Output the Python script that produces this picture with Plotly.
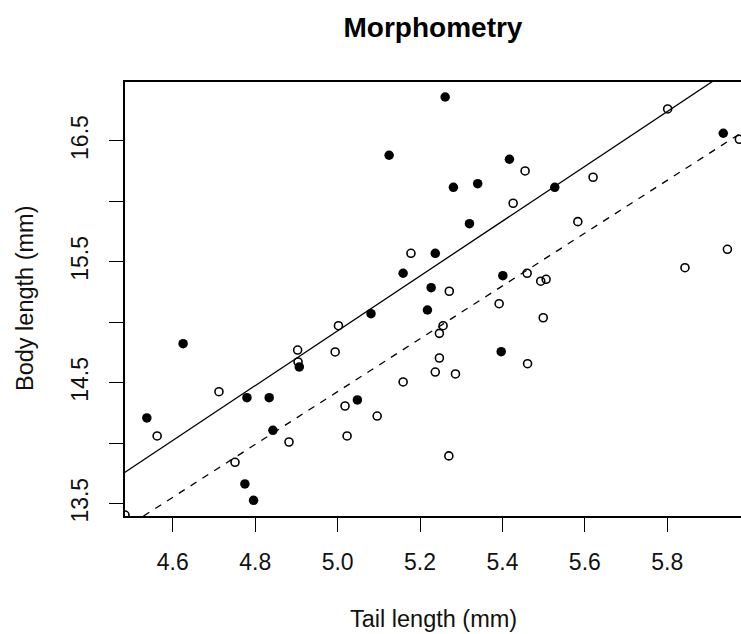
import plotly.graph_objects as go

# Morphometry measurements: tail length vs body length (mm)
filled_tail = [4.537, 4.625, 4.780, 4.834, 4.843, 4.775, 4.796, 4.907, 5.048, 5.081,
               5.218, 5.397, 5.261, 5.125, 5.417, 5.281, 5.340, 5.320, 5.237, 5.159,
               5.227, 5.401, 5.527, 5.936]
filled_body = [14.209, 14.823, 14.377, 14.377, 14.107, 13.663, 13.528, 14.631, 14.358, 15.072,
               15.102, 14.757, 16.864, 16.382, 16.349, 16.117, 16.147, 15.816, 15.571, 15.406,
               15.287, 15.386, 16.117, 16.564]

open_tail = [5.455, 5.426, 5.178, 5.271, 5.460, 5.493, 5.506, 5.801, 5.975, 5.620,
             5.583, 5.946, 5.843, 4.562, 4.712, 4.751, 4.903, 4.882, 4.994, 5.002,
             5.392, 5.499, 5.256, 5.247, 5.247, 5.237, 5.286, 5.159, 5.461, 5.018,
             5.096, 5.023, 5.270, 4.484, 4.904]
open_body = [16.252, 15.985, 15.571, 15.257, 15.406, 15.340, 15.356, 16.765, 16.514, 16.200,
             15.833, 15.604, 15.452, 14.060, 14.426, 13.842, 14.771, 14.010, 14.755, 14.972,
             15.154, 15.038, 14.972, 14.909, 14.705, 14.589, 14.573, 14.507, 14.658, 14.308,
             14.225, 14.060, 13.895, 13.406, 14.672]

# Fitted lines (intercept, slope)
fit_solid = (3.595, 2.267)
fit_dashed = (3.502, 2.185)

x_ticks = [4.6, 4.8, 5.0, 5.2, 5.4, 5.6, 5.8]
x_ticktext = ["4.6", "4.8", "5.0", "5.2", "5.4", "5.6", "5.8"]
y_ticks = [13.5, 14.0, 14.5, 15.0, 15.5, 16.0, 16.5]
y_ticktext = ["13.5", "", "14.5", "", "15.5", "", "16.5"]

FONT = "Liberation Sans, Arial, sans-serif"

fig = go.Figure()

line_x = [4.3, 6.2]
for (a, b), dash in [(fit_solid, "solid"), (fit_dashed, "7px,7px")]:
    fig.add_trace(go.Scatter(
        x=line_x, y=[a + b * v for v in line_x], mode="lines",
        line=dict(color="black", width=1.3, dash=dash),
        hoverinfo="skip", showlegend=False))

fig.add_trace(go.Scatter(
    x=open_tail, y=open_body, mode="markers",
    marker=dict(symbol="circle-open", size=8, color="black", line=dict(width=1.6, color="black")),
    showlegend=False))
fig.add_trace(go.Scatter(
    x=filled_tail, y=filled_body, mode="markers",
    marker=dict(symbol="circle", size=9.5, color="black", line=dict(width=0)),
    showlegend=False))

axis_common = dict(
    showgrid=False, zeroline=False, showline=True, linecolor="black", linewidth=1.5,
    ticks="outside", ticklen=14, tickwidth=1.3, tickcolor="black",
    tickfont=dict(family=FONT, size=23, color="#111111"),
)

fig.update_xaxes(range=[4.484, 5.979], tickvals=x_ticks, ticktext=x_ticktext,
                 mirror=True, ticklabelstandoff=11, **axis_common)
fig.update_yaxes(range=[13.398, 16.988], tickvals=y_ticks, ticktext=y_ticktext,
                 tickangle=-90, ticklabelstandoff=12, **axis_common)

fig.update_layout(
    width=741, height=634,
    margin=dict(l=125, r=0, t=82, b=118),
    paper_bgcolor="white", plot_bgcolor="white",
    title=dict(text="Morphometry", x=0.5, xref="paper", y=1 - 27 / 634, yref="container",
               yanchor="middle", xanchor="center",
               font=dict(family=FONT, size=28, color="black", weight="bold")),
    annotations=[
        dict(text="Tail length (mm)", xref="paper", yref="paper", x=0.5, y=-(619 - 516) / 434,
             xanchor="center", yanchor="middle", showarrow=False,
             font=dict(family=FONT, size=23.5, color="#111111")),
        dict(text="Body length (mm)", xref="paper", yref="paper", x=-(125 - 25) / 616, y=0.5,
             xanchor="center", yanchor="middle", textangle=-90, showarrow=False,
             font=dict(family=FONT, size=23.5, color="#111111")),
    ],
)

fig.write_html("out.html")
